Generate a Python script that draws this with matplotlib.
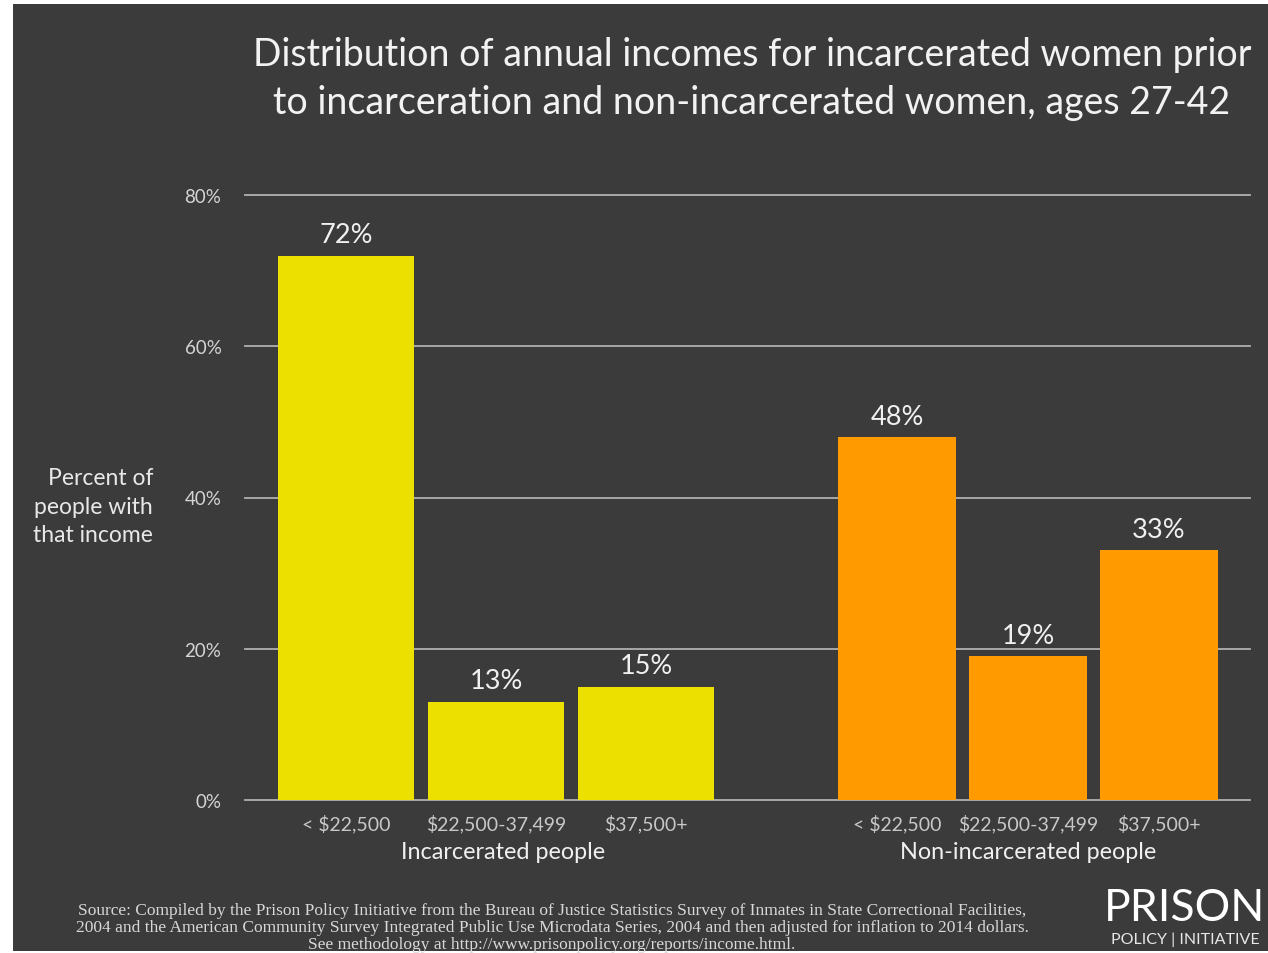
import matplotlib.pyplot as plt
from matplotlib.patches import Rectangle

# data
income_bands = ['< $22,500', '$22,500-37,499', '$37,500+']
incarcerated = [72, 13, 15]
non_incarcerated = [48, 19, 33]
group_names = ['Incarcerated people', 'Non-incarcerated people']
y_ticks = [0, 20, 40, 60, 80]

bg = '#3b3b3b'
yellow = '#ECE000'
orange = '#FF9A00'
sans = ['Lato', 'DejaVu Sans']

fig = plt.figure(figsize=(12.68, 9.54), dpi=100)
fig.patch.set_facecolor('white')
fig.patches.append(Rectangle((13 / 1268, 0.002), 1 - 13 / 1268, 1 - 5 / 954 - 0.002,
                             transform=fig.transFigure, facecolor=bg, edgecolor='none', zorder=-5))

ax = fig.add_axes([245 / 1268, 1 - 801 / 954, 1005 / 1268, 605 / 954])
ax.set_facecolor('none')
ax.set_zorder(2)
ax.set_xlim(0, 1005)
ax.set_ylim(0, 80)
for s in ax.spines.values():
    s.set_visible(False)

for t in y_ticks:
    ax.axhline(t, color='#b0b0b0', lw=1.3, zorder=1, clip_on=False)

# bar positions (in axis pixels)
x_inc = [101 + 150 * i for i in range(3)]
x_non = [652 + 131 * i for i in range(3)]

ax.bar(x_inc, incarcerated, width=136, color=yellow, zorder=2)
ax.bar(x_non, non_incarcerated, width=118, color=orange, zorder=2)

for x, v in zip(x_inc + x_non, incarcerated + non_incarcerated):
    ax.text(x, v + 1.1, f'{v}%', ha='center', va='bottom', color='#f0f0f0',
            fontsize=19.5, family=sans)

ax.set_yticks(y_ticks)
ax.set_yticklabels([f'{t}%' for t in y_ticks], color='#d4d4d4', fontsize=13.5, family=sans)
ax.set_xticks(x_inc + x_non)
ax.set_xticklabels(income_bands + income_bands, color='#c8c8c8', fontsize=14, family=sans)
ax.tick_params(axis='y', length=0, pad=17)
ax.tick_params(axis='x', length=0, pad=10)

ax.text(503 - 245, -6.8, group_names[0], ha='center', va='center', color='#f0f0f0',
        fontsize=16.8, family=sans)
ax.text(1028 - 245, -6.8, group_names[1], ha='center', va='center', color='#f0f0f0',
        fontsize=16.8, family=sans)

fig.text(153 / 1268, 1 - 507 / 954, 'Percent of\npeople with\nthat income', ha='right',
         va='center', color='#e8e8e8', fontsize=16.5, family=sans, linespacing=1.45)

fig.text(752 / 1268, 1 - 79 / 954,
         'Distribution of annual incomes for incarcerated women prior\n'
         'to incarceration and non-incarcerated women, ages 27-42',
         ha='center', va='center', color='#f2f2f2', fontsize=27, family=sans, linespacing=1.42)

fig.text(552 / 1268, 1 - 928 / 954,
         'Source: Compiled by the Prison Policy Initiative from the Bureau of Justice Statistics '
         'Survey of Inmates in State Correctional Facilities,\n'
         '2004 and the American Community Survey Integrated Public Use Microdata Series, 2004 '
         'and then adjusted for inflation to 2014 dollars.\n'
         'See methodology at http://www.prisonpolicy.org/reports/income.html.',
         ha='center', va='center', color='#d8d8d8', fontsize=12.5, family='Liberation Serif',
         linespacing=1.07)

fig.text(1185 / 1268, 1 - 909 / 954, 'PRISON', ha='center', va='center', color='white',
         fontsize=32, family=sans)
fig.text(1185 / 1268, 1 - 940 / 954, 'POLICY | INITIATIVE', ha='center', va='center',
         color='#e8e8e8', fontsize=11.5, family=sans)

fig.savefig('out.png', dpi=100, facecolor=fig.get_facecolor())
